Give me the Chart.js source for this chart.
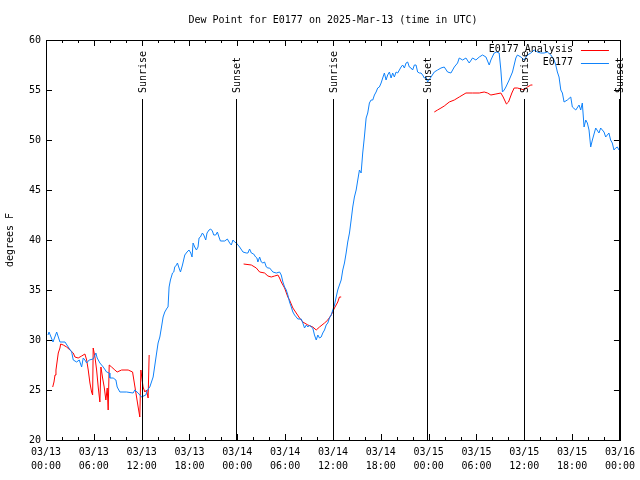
<!DOCTYPE html>
<html>
<head>
<meta charset="utf-8">
<script src="https://cdn.jsdelivr.net/npm/chart.js@4.4.1/dist/chart.umd.min.js"></script>
<style>
    body { margin: 0; background: #fff; }
    #box { width: 640px; height: 480px; }
</style>
</head>
<body>
<div id="box"><canvas id="dewChart" width="640" height="480"></canvas></div>
<script>
// time axis is hours since 03/13 00:00 UTC
const obsHours = [
    0.25, 0.38, 0.63, 0.88, 1.34, 1.75, 2.38, 2.79, 3.22, 3.42,
    3.84, 4.17, 4.47, 4.67, 4.88, 5.10, 5.42, 5.92, 6.26, 6.42,
    6.76, 7.18, 7.60, 7.93, 8.01, 8.43, 8.77, 8.93, 9.27, 10.11,
    10.93, 11.14, 11.56, 11.98, 12.52, 12.73, 13.02, 13.44, 13.84, 14.06,
    14.28, 14.49, 14.69, 14.90, 15.19, 15.31, 15.44, 15.61, 15.87, 16.03,
    16.15, 16.37, 16.49, 16.69, 16.87, 17.12, 17.41, 17.69, 17.94, 18.16,
    18.32, 18.45, 18.66, 18.87, 19.07, 19.20, 19.37, 19.62, 19.79, 20.04,
    20.20, 20.45, 20.66, 20.87, 21.04, 21.29, 21.50, 21.70, 21.88, 22.42,
    22.75, 23.04, 23.25, 23.45, 23.67, 23.88, 24.29, 24.71, 25.13, 25.33,
    25.54, 25.76, 26.05, 26.30, 26.46, 26.58, 26.80, 27.01, 27.21, 27.42,
    27.64, 27.84, 28.05, 28.26, 28.46, 28.89, 29.30, 29.51, 29.72, 29.93,
    30.14, 30.34, 30.55, 30.77, 30.97, 31.18, 31.39, 31.59, 32.02, 32.22,
    32.43, 32.65, 32.85, 33.06, 33.27, 33.47, 33.68, 33.90, 34.10, 34.31,
    34.52, 34.72, 34.94, 35.15, 35.35, 35.56, 35.78, 35.98, 36.19, 36.40,
    36.60, 36.81, 37.03, 37.23, 37.44, 37.65, 37.85, 38.07, 38.28, 38.48,
    38.69, 38.91, 39.11, 39.32, 39.53, 39.73, 39.94, 40.16, 40.36, 40.57,
    40.78, 40.99, 41.20, 41.41, 41.61, 41.82, 42.04, 42.24, 42.45, 42.66,
    42.86, 43.08, 43.29, 43.49, 43.70, 43.92, 44.12, 44.33, 44.54, 44.74,
    44.96, 45.17, 45.37, 45.58, 45.79, 45.99, 46.21, 46.42, 46.62, 46.83,
    47.05, 47.25, 47.46, 47.67, 47.87, 48.30, 48.71, 49.12, 49.55, 49.96,
    50.38, 50.80, 51.22, 51.63, 51.84, 52.26, 52.68, 53.09, 53.51, 53.93,
    54.35, 54.76, 55.19, 55.60, 55.81, 56.22, 56.51, 56.85, 57.06, 57.26,
    57.48, 57.69, 58.10, 58.52, 58.94, 59.14, 59.57, 59.98, 60.39, 60.82,
    61.23, 61.65, 62.07, 62.49, 62.90, 63.33, 63.74, 63.95, 64.15, 64.36,
    64.58, 64.78, 64.99, 65.40, 65.83, 66.03, 66.46, 66.87, 67.08, 67.28,
    67.50, 67.71, 67.91, 68.12, 68.33, 68.54, 68.96, 69.37, 69.58, 70.00,
    70.21, 70.62, 70.83, 71.04, 71.25, 71.46, 71.67, 71.88,
];
const obsDew = [
    30.5, 30.8, 30.3, 29.8, 30.8, 29.8, 29.8, 29.3, 28.8, 28.0,
    27.8, 28.0, 27.3, 28.2, 28.0, 27.7, 28.0, 28.1, 28.7, 28.2,
    27.7, 27.3, 26.8, 26.7, 26.2, 26.2, 26.0, 25.3, 24.8, 24.8,
    24.7, 25.0, 24.7, 24.3, 24.5, 25.0, 25.3, 26.3, 28.5, 29.7,
    30.3, 31.3, 32.3, 32.8, 33.2, 33.3, 35.3, 36.0, 36.7, 36.8,
    37.3, 37.5, 37.7, 37.2, 36.8, 37.5, 38.5, 38.8, 39.0, 38.7,
    38.3, 39.7, 39.3, 39.0, 39.3, 40.2, 40.3, 40.7, 40.5, 40.0,
    40.7, 41.0, 41.1, 40.9, 40.5, 40.5, 40.8, 40.3, 39.9, 39.9,
    40.1, 39.7, 39.5, 40.0, 39.8, 39.7, 39.3, 38.8, 38.7, 38.7,
    39.1, 38.7, 38.6, 38.3, 38.2, 37.8, 38.3, 37.8, 37.7, 37.8,
    37.3, 37.2, 37.2, 37.0, 36.8, 36.7, 36.8, 36.5, 35.8, 35.3,
    35.0, 34.5, 33.8, 33.3, 32.8, 32.5, 32.3, 32.1, 32.1, 31.7,
    31.2, 31.5, 31.3, 31.5, 31.3, 31.2, 30.5, 30.0, 30.5, 30.2,
    30.3, 30.7, 31.0, 31.5, 31.7, 32.2, 32.5, 33.0, 33.5, 34.3,
    35.0, 35.5, 36.0, 37.0, 37.7, 38.7, 39.8, 40.7, 42.0, 43.3,
    44.3, 45.0, 46.0, 47.0, 46.7, 48.7, 50.3, 52.2, 52.7, 53.7,
    54.0, 54.0, 54.5, 54.8, 55.2, 55.3, 55.7, 56.2, 56.7, 56.0,
    56.5, 56.8, 56.2, 56.7, 56.3, 56.8, 56.7, 57.0, 57.3, 57.5,
    57.2, 57.7, 57.8, 57.3, 57.2, 57.0, 57.5, 57.5, 56.8, 56.7,
    56.7, 56.5, 56.2, 56.3, 55.8, 56.3, 56.8, 57.0, 57.2, 57.3,
    56.8, 56.7, 57.3, 57.7, 58.2, 58.0, 58.2, 57.7, 58.2, 58.0,
    58.3, 58.5, 58.3, 57.5, 58.0, 58.7, 58.8, 58.7, 57.0, 54.8,
    55.0, 55.3, 56.0, 56.8, 58.2, 58.5, 58.3, 58.0, 58.5, 58.7,
    59.0, 58.8, 58.7, 58.7, 58.8, 58.5, 58.0, 57.5, 56.8, 56.3,
    55.0, 54.7, 53.8, 54.0, 54.3, 53.3, 53.0, 53.5, 53.0, 53.7,
    51.3, 52.0, 51.7, 51.0, 49.3, 50.0, 51.2, 50.7, 51.2, 50.8,
    50.3, 50.7, 50.0, 49.7, 49.0, 49.2, 49.3, 49.0,
];

// analysis series, null = no analysis (gap)
const anaHours = [
    0.84, 1.00, 1.13, 1.25, 1.42, 1.54, 1.75, 1.84, 2.17, 2.59,
    3.01, 3.42, 3.63, 4.04, 4.47, 4.88, 5.10, 5.30, 5.51, 5.72,
    5.85, 5.92, 6.14, 6.35, 6.55, 6.76, 6.89, 7.10, 7.30, 7.51,
    7.68, 7.80, 7.93, 8.23, 8.64, 8.93, 9.48, 10.31, 10.86, 11.06,
    11.36, 11.56, 11.77, 11.90, 12.06, 12.18, 12.40, 12.61, 12.81, 12.94,
    18.00,
    24.79, 25.76, 26.38, 26.80, 27.42, 27.84, 28.26, 28.68, 29.09, 29.30,
    29.51, 29.93, 30.34, 30.55, 30.97, 31.39, 31.81, 32.22, 32.85, 33.47,
    33.90, 34.31, 34.94, 35.35, 35.78, 36.19, 36.60, 36.81, 37.03,
    42.00,
    48.71, 49.12, 49.55, 49.96, 50.59, 51.22, 51.84, 52.68, 53.51, 54.35,
    54.97, 55.39, 55.81, 56.44, 57.06, 57.35, 57.76, 58.02, 58.44, 58.73,
    59.14, 59.57, 59.98, 60.39, 60.82, 61.02,
];
const anaDew = [
    25.3, 25.8, 26.5, 27.0, 28.0, 28.7, 29.2, 29.6, 29.5, 29.3,
    29.0, 28.7, 28.3, 28.2, 28.4, 28.6, 28.0, 27.0, 25.7, 24.8,
    24.5, 29.2, 28.3, 27.0, 25.3, 23.8, 27.3, 26.2, 25.3, 24.0,
    25.2, 23.0, 27.5, 27.3, 27.0, 26.8, 27.0, 27.0, 26.8, 25.8,
    24.3, 23.3, 22.3, 27.0, 26.0, 25.3, 24.8, 25.0, 24.2, 28.5,
    null,
    37.6, 37.5, 37.2, 36.8, 36.7, 36.4, 36.3, 36.4, 36.5, 36.2,
    35.8, 35.2, 34.3, 34.0, 33.2, 32.7, 32.2, 31.8, 31.5, 31.3,
    31.0, 31.3, 31.7, 32.0, 32.5, 33.2, 33.8, 34.3, 34.3,
    null,
    52.8, 53.0, 53.2, 53.4, 53.8, 54.0, 54.3, 54.7, 54.7, 54.7,
    54.8, 54.7, 54.5, 54.6, 54.7, 54.3, 53.6, 53.8, 54.7, 55.2,
    55.2, 55.1, 55.0, 55.3, 55.5, 55.5,
];

const sunHours = [12.0, 23.8, 36.0, 47.8, 60.0, 71.85];
const sunNames = ["Sunrise", "Sunset", "Sunrise", "Sunset", "Sunrise", "Sunset"];

const xTickLabels = [
    ["03/13", "00:00"], ["03/13", "06:00"], ["03/13", "12:00"], ["03/13", "18:00"],
    ["03/14", "00:00"], ["03/14", "06:00"], ["03/14", "12:00"], ["03/14", "18:00"],
    ["03/15", "00:00"], ["03/15", "06:00"], ["03/15", "12:00"], ["03/15", "18:00"],
    ["03/16", "00:00"],
];

const chartTitle = "Dew Point for E0177 on 2025-Mar-13 (time in UTC)";

const FAMILY = '"DejaVu Sans Mono", "Liberation Mono", monospace';
const BLUE = "rgb(15, 130, 250)";
const RED = "#ff0000";

// gnuplot look: boxed frame, inward ticks, sun markers, legend in the corner
const gnuplotFrame = {
    id: "gnuplotFrame",
    afterDatasetsDraw(chart) {
        const { ctx, chartArea: area } = chart;
        const xs = chart.scales.x;
        const ys = chart.scales.y;
        ctx.save();
        ctx.strokeStyle = "#000";
        ctx.lineWidth = 1;
        ctx.beginPath();
        for (let h = 0; h <= 72; h += 2) {
            const px = Math.round(xs.getPixelForValue(h)) + 0.5;
            const len = h % 6 === 0 ? 6 : 3;
            ctx.moveTo(px, area.bottom);
            ctx.lineTo(px, area.bottom - len);
            ctx.moveTo(px, area.top);
            ctx.lineTo(px, area.top + len);
        }
        ys.ticks.forEach((t) => {
            const py = Math.round(ys.getPixelForValue(t.value)) + 0.5;
            ctx.moveTo(area.left, py);
            ctx.lineTo(area.left + 6, py);
            ctx.moveTo(area.right, py);
            ctx.lineTo(area.right - 6, py);
        });
        const topY = Math.round(area.bottom - 0.8525 * (area.bottom - area.top));
        sunHours.forEach((h) => {
            const px = Math.round(xs.getPixelForValue(h)) + 0.5;
            ctx.moveTo(px, area.bottom);
            ctx.lineTo(px, topY);
        });
        ctx.stroke();
        ctx.strokeRect(Math.round(area.left) + 0.5, Math.round(area.top) + 0.5,
            Math.round(area.right - area.left), Math.round(area.bottom - area.top));

        ctx.fillStyle = "#000";
        ctx.font = "10px " + FAMILY;
        ctx.textBaseline = "middle";

        // title is centred over the plot box, not the canvas
        ctx.textAlign = "center";
        ctx.fillText(chartTitle, (area.left + area.right) / 2, 20);

        ctx.textAlign = "left";
        sunHours.forEach((h, i) => {
            ctx.save();
            ctx.translate(Math.round(xs.getPixelForValue(h)) + 1.5, topY - 6);
            ctx.rotate(-Math.PI / 2);
            ctx.fillText(sunNames[i], 0, 0);
            ctx.restore();
        });

        // legend
        ctx.textAlign = "right";
        chart.data.datasets.forEach((ds, i) => {
            const rowY = area.top + 9.5 + i * 13;
            ctx.fillStyle = "#000";
            ctx.fillText(ds.label, area.right - 47, rowY);
            ctx.strokeStyle = ds.borderColor;
            ctx.beginPath();
            ctx.moveTo(area.right - 39, Math.round(rowY) + 0.5);
            ctx.lineTo(area.right - 11, Math.round(rowY) + 0.5);
            ctx.stroke();
        });
        ctx.restore();
    },
};

const ctx = document.getElementById("dewChart").getContext("2d");

const chart = new Chart(ctx, {
    type: "line",
    data: {
        datasets: [
            {
                label: "E0177 Analysis",
                data: anaHours.map((h, i) => ({ x: h, y: anaDew[i] })),
                borderColor: RED,
                borderWidth: 1,
                pointRadius: 0,
                spanGaps: false,
                order: 2,
            },
            {
                label: "E0177",
                data: obsHours.map((h, i) => ({ x: h, y: obsDew[i] })),
                borderColor: BLUE,
                borderWidth: 1,
                pointRadius: 0,
                order: 1,
            },
        ],
    },
    options: {
        responsive: false,
        animation: false,
        devicePixelRatio: 1,
        layout: { padding: { left: 0, right: 19, top: 40, bottom: 0 } },
        plugins: {
            legend: { display: false },
            tooltip: { enabled: false },
            title: { display: false },
        },
        scales: {
            x: {
                type: "linear",
                min: 0,
                max: 72,
                grid: { display: false, drawTicks: false },
                border: { display: false },
                ticks: {
                    stepSize: 6,
                    autoSkip: false,
                    maxRotation: 0,
                    padding: 5,
                    color: "#000",
                    font: { family: FAMILY, size: 10, lineHeight: 1.4 },
                    callback: (v, i) => xTickLabels[i],
                },
                afterFit: (s) => { s.height = 40; },
            },
            y: {
                min: 20,
                max: 60,
                grid: { display: false, drawTicks: false },
                border: { display: false },
                ticks: {
                    stepSize: 5,
                    padding: 5,
                    color: "#000",
                    font: { family: FAMILY, size: 10 },
                },
                title: {
                    display: true,
                    text: "degrees F",
                    color: "#000",
                    font: { family: FAMILY, size: 10, lineHeight: 1.2 },
                    padding: { top: 4, bottom: 0 },
                },
                afterFit: (s) => { s.width = 46; },
            },
        },
    },
    plugins: [gnuplotFrame],
});
</script>
</body>
</html>
